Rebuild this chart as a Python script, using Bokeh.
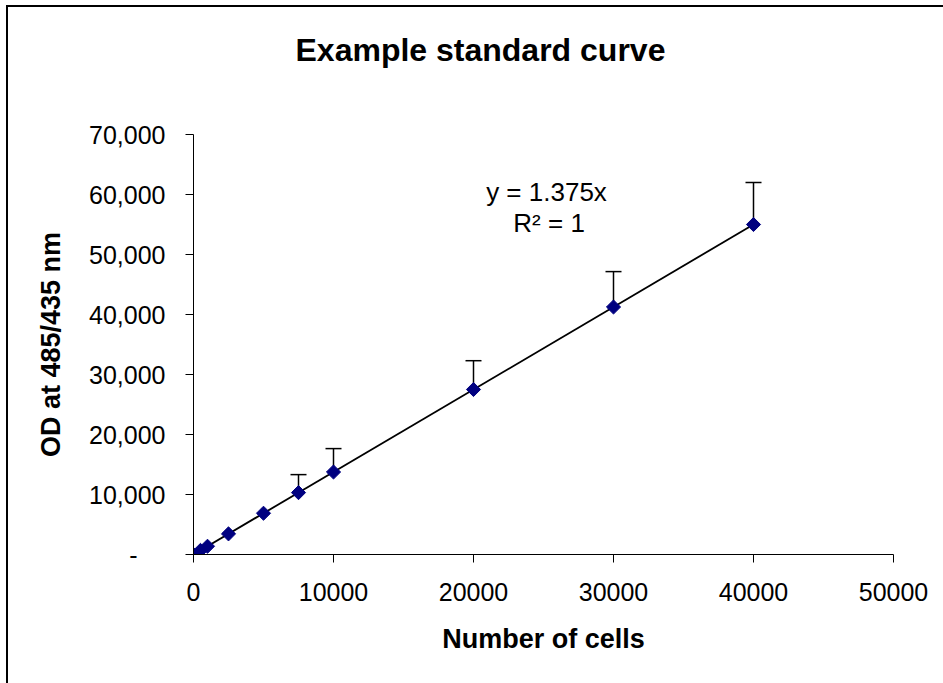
import math
from bokeh.plotting import figure
from bokeh.models import (Range1d, FixedTicker, NumeralTickFormatter, Whisker,
                          TeeHead, ColumnDataSource, Label, Title)
from bokeh.embed import file_html
from bokeh.resources import INLINE

# ---- data ----
cells = [0, 500, 1000, 2500, 5000, 7500, 10000, 20000, 30000, 40000]
od = [0, 688, 1375, 3438, 6875, 10313, 13750, 27500, 41250, 55000]
od_err = [0, 0, 0, 0, 0, 3000, 3900, 4800, 5900, 7000]
slope = 1.375
x_ticks = [0, 10000, 20000, 30000, 40000, 50000]
y_ticks = [0, 10000, 20000, 30000, 40000, 50000, 60000, 70000]
title_text = "Example standard curve"
x_label = "Number of cells"
y_label = "OD at 485/435 nm"
eq_line1 = "y = 1.375x"
eq_line2 = "R\u00b2 = 1"

FONT = "Liberation Sans"

p = figure(width=935, height=676,
           x_range=Range1d(0, 50000), y_range=Range1d(0, 70000),
           output_backend="svg", toolbar_location=None,
           min_border_left=185, min_border_right=50,
           min_border_top=127, min_border_bottom=129)
p.styles = {"margin-left": "8px", "margin-top": "7px",
            "outline": "2px solid black"}
p.outline_line_color = None
p.xgrid.visible = False
p.ygrid.visible = False
p.background_fill_color = "white"
p.border_fill_color = "white"

# spacer between frame and title (keeps the title high above the plot area)
p.add_layout(Title(text=" ", text_font_size="1px", standoff=64), "above")

# title
p.title.text = title_text
p.title.text_font = FONT
p.title.text_font_size = "32px"
p.title.text_font_style = "bold"
p.title.text_color = "black"
p.title.align = "left"
p.title.offset = 102
p.title.standoff = 0

src = ColumnDataSource(dict(x=cells, y=od))
eb_x = [c for c, e in zip(cells, od_err) if e > 0]
eb_lo = [v for v, e in zip(od, od_err) if e > 0]
eb_hi = [v + e for v, e in zip(od, od_err) if e > 0]
eb_src = ColumnDataSource(dict(x=eb_x, lower=eb_lo, upper=eb_hi))

# trendline
tx = [min(cells), max(cells)]
p.line(tx, [slope * v for v in tx], line_color="black", line_width=1.8)

# error bars (upper only)
wh = Whisker(source=eb_src, base="x", upper="upper", lower="lower",
             upper_head=TeeHead(size=16, line_color="black", line_width=1.5),
             lower_head=None, line_color="black", line_width=1.5)
p.add_layout(wh)

# markers
p.scatter("x", "y", source=src, marker="square", angle=math.pi / 4, size=10,
          fill_color="#000080", line_color="#000080")

# axes
for ax in (p.xaxis[0], p.yaxis[0]):
    ax.axis_line_color = "black"
    ax.axis_line_width = 1
    ax.major_tick_line_color = "black"
    ax.major_tick_out = 8
    ax.major_tick_in = 0
    ax.minor_tick_line_color = None
    ax.major_label_text_font = FONT
    ax.major_label_text_font_size = "25px"
    ax.major_label_text_color = "black"
    ax.axis_label_text_font = FONT
    ax.axis_label_text_font_size = "27px"
    ax.axis_label_text_font_style = "bold"
    ax.axis_label_text_color = "black"

p.xaxis.ticker = FixedTicker(ticks=x_ticks)
p.xaxis.formatter = NumeralTickFormatter(format="0")
p.xaxis.major_label_standoff = 20
p.xaxis.axis_label = x_label
p.xaxis.axis_label_standoff = 20

p.yaxis.ticker = FixedTicker(ticks=y_ticks)
p.yaxis.formatter = NumeralTickFormatter(format="0,0")
p.yaxis.major_label_overrides = {0: "-\u2007\u2007"}
p.yaxis.major_label_standoff = 20
p.yaxis.axis_label = y_label
p.yaxis.axis_label_standoff = 20

# regression equation
p.add_layout(Label(x=25214, y=60500, text=eq_line1, text_align="center",
                   text_baseline="alphabetic", text_font=FONT,
                   text_font_size="26px", text_color="black"))
p.add_layout(Label(x=25400, y=55167, text=eq_line2, text_align="center",
                   text_baseline="alphabetic", text_font=FONT,
                   text_font_size="26px", text_color="black"))

open("out.html", "w").write(file_html(p, INLINE))
